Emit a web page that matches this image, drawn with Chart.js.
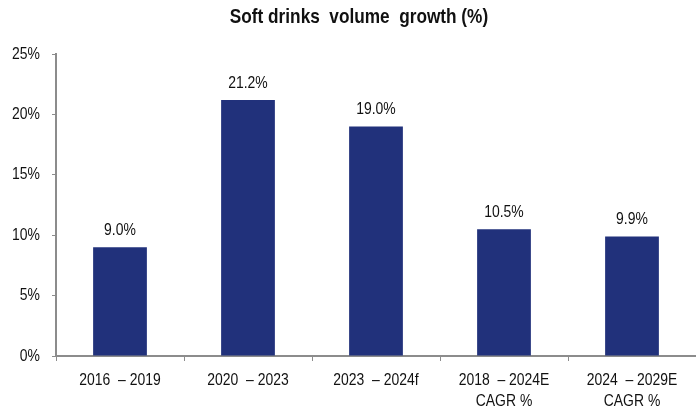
<!DOCTYPE html>
<html>
<head>
<meta charset="utf-8">
<script src="https://cdn.jsdelivr.net/npm/chart.js@4/dist/chart.umd.min.js"></script>
<style>
  html, body { margin: 0; padding: 0; background: #fff; }
  #wrap { width: 696px; height: 411px; }
</style>
</head>
<body>
<div id="wrap"><canvas id="growth" width="696" height="411"></canvas></div>
<script>
const periods = [
  ['2016  – 2019'],
  ['2020  – 2023'],
  ['2023  – 2024f'],
  ['2018  – 2024E', 'CAGR %'],
  ['2024  – 2029E', 'CAGR %']
];
const growth = [9.0, 21.2, 19.0, 10.5, 9.9];
const yTicks = [0, 5, 10, 15, 20, 25];

const FONT = '"Liberation Sans", Arial, sans-serif';
const NARROW = 0.82;   // horizontal squeeze, gives an Arial Narrow look
const AXIS = '#8c8c8c';
const INK = '#111';

// text drawn squeezed horizontally around (x, y)
function narrowText(ctx, text, x, y, align, baseline, font) {
  ctx.save();
  ctx.font = font;
  ctx.textAlign = align;
  ctx.textBaseline = baseline;
  ctx.fillStyle = INK;
  ctx.translate(x, y);
  ctx.scale(NARROW, 1);
  ctx.fillText(text, 0, 0);
  ctx.restore();
}

const labels = {
  id: 'labels',
  afterDraw(chart) {
    const ctx = chart.ctx;
    const xs = chart.scales.x, ys = chart.scales.y;
    const small = '17px ' + FONT;

    ys.ticks.forEach(t => {
      narrowText(ctx, t.value + '%', 40, ys.getPixelForValue(t.value), 'right', 'middle', small);
    });

    periods.forEach((lines, i) => {
      const x = xs.getPixelForValue(i);
      lines.forEach((line, j) => {
        narrowText(ctx, line, x, xs.top + 24 + j * 21, 'center', 'middle', small);
      });
    });

    chart.getDatasetMeta(0).data.forEach((bar, i) => {
      narrowText(ctx, growth[i].toFixed(1) + '%', bar.x, bar.y - 12, 'center', 'alphabetic', small);
    });

    narrowText(ctx, 'Soft drinks  volume  growth (%)', 359, 17, 'center', 'middle', 'bold 21px ' + FONT);
  }
};

new Chart(document.getElementById('growth'), {
  type: 'bar',
  data: {
    labels: periods,
    datasets: [{
      data: growth,
      backgroundColor: '#21317b',
      categoryPercentage: 0.42,
      barPercentage: 1.0
    }]
  },
  options: {
    responsive: false,
    animation: false,
    layout: { padding: { top: 54, right: 0, left: 0, bottom: 0 } },
    plugins: {
      legend: { display: false },
      tooltip: { enabled: false },
      title: { display: false }
    },
    scales: {
      x: {
        afterFit(scale) { scale.height = 55; },
        grid: { drawOnChartArea: false, drawTicks: true, tickLength: 5, color: AXIS, offset: true },
        border: { color: AXIS, width: 2 },
        ticks: { display: false }
      },
      y: {
        min: 0,
        max: 25,
        afterFit(scale) { scale.width = 56; },
        afterBuildTicks(scale) { scale.ticks = yTicks.map(v => ({ value: v })); },
        grid: { drawOnChartArea: false, drawTicks: true, tickLength: 4, color: AXIS },
        border: { color: AXIS, width: 2 },
        ticks: { display: false }
      }
    }
  },
  plugins: [labels]
});
</script>
</body>
</html>
